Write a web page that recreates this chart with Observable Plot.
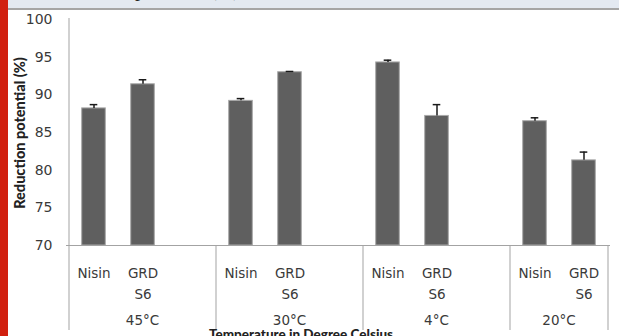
<!DOCTYPE html>
<html><head><meta charset="utf-8">
<script src="https://cdn.jsdelivr.net/npm/d3@7"></script>
<script src="https://cdn.jsdelivr.net/npm/@observablehq/plot@0.6"></script>
<style>
html,body{margin:0;padding:0;background:#fff;overflow:hidden;}
#wrap{position:relative;width:619px;height:336px;overflow:hidden;}
#band{position:absolute;left:0;top:0;width:619px;height:8px;background:#e3e9f1;border-bottom:2px solid #a5a5a5;overflow:hidden;}
#band span{position:absolute;right:379px;top:-22px;line-height:20px;font:20px "Liberation Serif";color:#222;white-space:nowrap;}
#red{position:absolute;left:0;top:0;width:8px;height:336px;background:#d1200f;}
#chart{position:absolute;left:0;top:0;}
</style></head>
<body><div id="wrap"><div id="chart"></div><div id="band"><span>Reduction potential (%)</span></div><div id="red"></div></div>
<script>
const temperatures = ["45°C", "30°C", "4°C", "20°C"];
const treatments = ["Nisin", "GRD\nS6"];
const nisinValues = [88.2, 89.2, 94.3, 86.5];
const grdValues = [91.4, 93.0, 87.2, 81.3];
const nisinErrors = [0.5, 0.3, 0.3, 0.45];
const grdErrors = [0.6, 0.1, 1.5, 1.1];
const yTicks = [70, 75, 80, 85, 90, 95, 100];
const yLabel = "Reduction potential (%)";
const xLabel = "Temperature in Degree Celsius";

const rows = [];
const slots = [];
temperatures.forEach((t, i) => {
  rows.push({temp: t, treatment: treatments[0], slot: `${t}|0`, value: nisinValues[i], err: nisinErrors[i]});
  rows.push({temp: t, treatment: treatments[1], slot: `${t}|1`, value: grdValues[i], err: grdErrors[i]});
  slots.push(`${t}|0`, `${t}|1`);
  if (i < temperatures.length - 1) slots.push(`${t}|2`);
});

const W = 619, H = 336;
const axisColor = "#a3a3a3";
const textColor = "#3a3a3a";
const plot = Plot.plot({
  width: W, height: H,
  marginLeft: 66, marginRight: 9, marginTop: 19, marginBottom: 91,
  style: {background: "transparent", fontFamily: "DejaVu Sans", overflow: "hidden"},
  x: {domain: slots, padding: 0, axis: null},
  y: {domain: [yTicks[0], yTicks[yTicks.length - 1]], label: null},
  marks: [
    Plot.axisY(yTicks, {tickSize: 0, tickPadding: 14, fontSize: 14, fill: textColor, label: null}),
    Plot.barY(rows, {x: "slot", y1: yTicks[0], y2: "value", fill: "#5f5f5f", stroke: "#a8a8a8", strokeWidth: 1, insetLeft: 12.7, insetRight: 12.7}),
    Plot.ruleX(rows, {x: "slot", y1: "value", y2: d => d.value + d.err, stroke: "#1a1a1a", strokeWidth: 1.5}),
    Plot.tickY(rows, {x: "slot", y: d => d.value + d.err, stroke: "#1a1a1a", strokeWidth: 1.5, insetLeft: 20.7, insetRight: 20.7}),
    Plot.ruleY([yTicks[0]], {stroke: axisColor, strokeWidth: 1}),
    Plot.text(rows, {x: "slot", y: yTicks[0], text: "treatment", lineAnchor: "top", dy: 17.5, lineHeight: 1.56, fontSize: 13.5, fill: textColor})
  ]
});

const xs = plot.scale("x"), ys = plot.scale("y");
const bw = xs.bandwidth;
const svg = d3.select(plot);
const base = ys.apply(yTicks[0]);
const bottom = H - 6;
svg.append("line").attr("x1", xs.apply(slots[0])).attr("x2", xs.apply(slots[0]))
  .attr("y1", ys.apply(yTicks[yTicks.length - 1]) - 1).attr("y2", bottom)
  .attr("stroke", axisColor);
temperatures.forEach((t, i) => {
  const left = xs.apply(`${t}|0`);
  const right = i < temperatures.length - 1 ? xs.apply(`${t}|2`) + bw : xs.apply(`${t}|1`) + bw;
  svg.append("line").attr("x1", right).attr("x2", right).attr("y1", base).attr("y2", bottom).attr("stroke", axisColor);
  svg.append("text").attr("x", (left + right) / 2).attr("y", 325).attr("text-anchor", "middle")
    .attr("font-size", 13.5).attr("fill", textColor).attr("font-family", "DejaVu Sans").text(t);
});
svg.append("text").attr("x", 301).attr("y", 339).attr("text-anchor", "middle")
  .attr("font-family", "Lato").attr("font-weight", "900").attr("font-size", 13.5).attr("fill", "#222").text(xLabel);
svg.append("text").attr("transform", "translate(25,133) rotate(-90)").attr("text-anchor", "middle")
  .attr("font-family", "Lato").attr("font-weight", "900").attr("font-size", 14.5).attr("fill", "#222").text(yLabel);

document.getElementById("chart").appendChild(plot);
</script>
</body></html>
